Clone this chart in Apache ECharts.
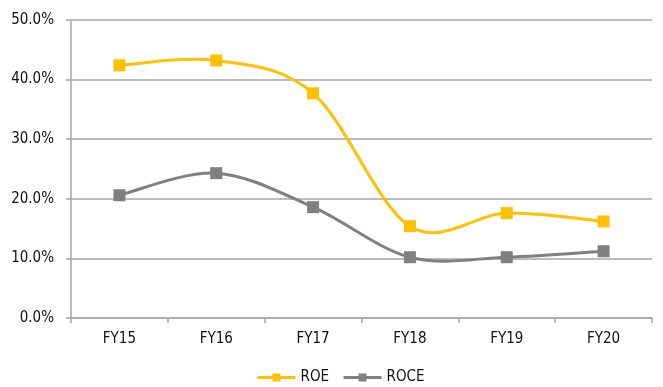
<!DOCTYPE html>
<html>
<head>
<meta charset="utf-8">
<script src="https://cdn.jsdelivr.net/npm/echarts@6/dist/echarts.min.js"></script>
<style>
  html, body { margin: 0; padding: 0; background: #fff; }
  #chart { width: 663px; height: 387px; }
</style>
</head>
<body>
<div id="chart"></div>
<script>
// Fiscal years on the category axis
const years = ['FY15', 'FY16', 'FY17', 'FY18', 'FY19', 'FY20'];
// Return ratios, in percent
const roe = [42.4, 43.2, 37.7, 15.4, 17.6, 16.2];
const roce = [20.6, 24.3, 18.6, 10.2, 10.2, 11.2];

const axisGrey = '#a6a6a6';
const textFont = 'DejaVu Sans Condensed';
const textColor = '#111';
const roeColor = '#FFC000';
const roceColor = '#808080';

const chart = echarts.init(document.getElementById('chart'), null, { renderer: 'canvas' });

// Spreadsheet-style smoothed curve: each data item draws one cubic segment
// to the next point, with Catmull-Rom control points (1/6 of the chord
// between the neighbouring points), placed through the axis coordinates.
function curveSeries(name, vals, color) {
  const n = vals.length;
  return {
    name: name + ' curve',
    type: 'custom',
    data: vals.map((v, i) => [i, v]),
    z: 1,
    silent: true,
    renderItem: function (params, api) {
      const i = params.dataIndex;
      if (i >= n - 1) return null;
      const pt = k => api.coord([k, vals[k]]);
      const p0 = pt(Math.max(i - 1, 0));
      const p1 = pt(i);
      const p2 = pt(i + 1);
      const p3 = pt(Math.min(i + 2, n - 1));
      return {
        type: 'bezierCurve',
        shape: {
          x1: p1[0], y1: p1[1],
          cpx1: p1[0] + (p2[0] - p0[0]) / 6, cpy1: p1[1] + (p2[1] - p0[1]) / 6,
          cpx2: p2[0] - (p3[0] - p1[0]) / 6, cpy2: p2[1] - (p3[1] - p1[1]) / 6,
          x2: p2[0], y2: p2[1]
        },
        style: { stroke: color, lineWidth: 3, fill: null, lineCap: 'round' }
      };
    }
  };
}

// Square markers for each value; the connecting line comes from the curve series
function markerSeries(name, vals, color) {
  return {
    name: name,
    type: 'line',
    data: vals,
    z: 3,
    symbol: 'rect',
    symbolSize: 12,
    lineStyle: { color: color, width: 3, opacity: 0 },
    itemStyle: { color: color },
    emphasis: { disabled: true }
  };
}

chart.setOption({
  animation: false,
  grid: { left: 71, right: 11, top: 20, bottom: 69, containLabel: false },
  legend: {
    top: 365,
    left: 251,
    itemWidth: 38,
    itemHeight: 10,
    itemGap: 13,
    textStyle: { fontFamily: textFont, fontSize: 15, color: textColor },
    data: [
      { name: 'ROE', lineStyle: { color: roeColor, width: 3, opacity: 1 }, itemStyle: { color: roeColor } },
      { name: 'ROCE', lineStyle: { color: roceColor, width: 3, opacity: 1 }, itemStyle: { color: roceColor } }
    ]
  },
  xAxis: {
    type: 'category',
    data: years,
    boundaryGap: true,
    axisLine: { lineStyle: { color: axisGrey, width: 1.5 } },
    axisTick: { show: true, alignWithLabel: false, length: 5, lineStyle: { color: axisGrey, width: 1.5 } },
    axisLabel: { fontFamily: textFont, fontSize: 15, color: textColor, margin: 14 }
  },
  yAxis: {
    type: 'value',
    min: 0,
    max: 50,
    interval: 10,
    axisLine: { show: true, lineStyle: { color: axisGrey, width: 1.5 } },
    axisTick: { show: true, length: 5, lineStyle: { color: axisGrey, width: 1.5 } },
    splitLine: { lineStyle: { color: axisGrey, width: 1.5 } },
    axisLabel: {
      fontFamily: textFont, fontSize: 15, color: textColor, margin: 17,
      formatter: v => v.toFixed(1) + '%'
    }
  },
  series: [
    curveSeries('ROE', roe, roeColor),
    curveSeries('ROCE', roce, roceColor),
    markerSeries('ROE', roe, roeColor),
    markerSeries('ROCE', roce, roceColor)
  ]
});
</script>
</body>
</html>
